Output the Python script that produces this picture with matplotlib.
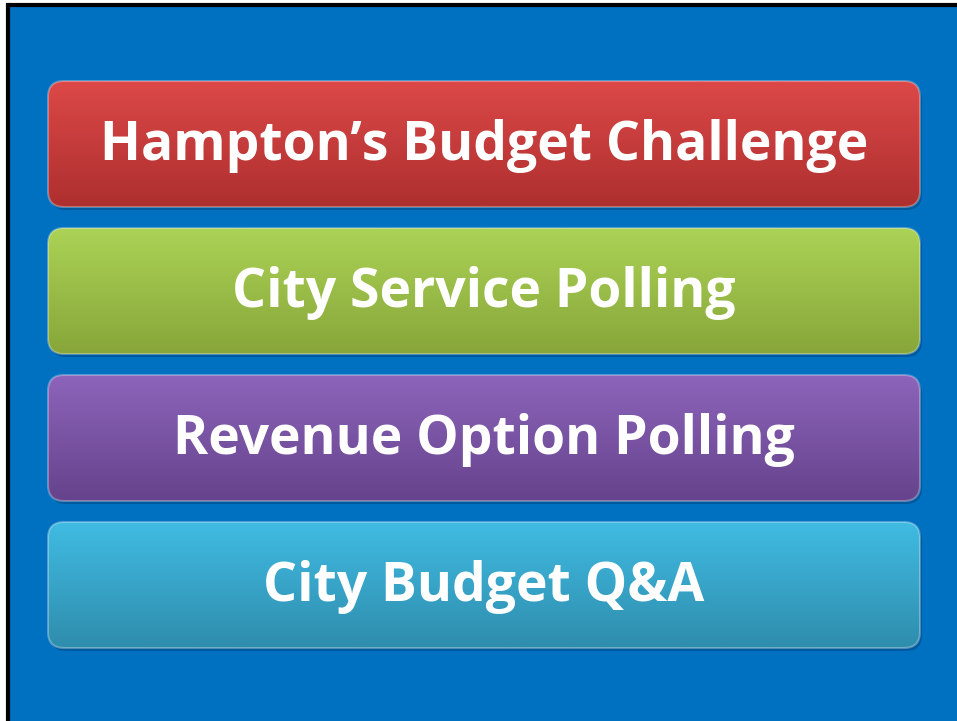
import numpy as np
import matplotlib.pyplot as plt
from matplotlib.patches import FancyBboxPatch, Rectangle

labels = ["Hampton\u2019s Budget Challenge", "City Service Polling",
          "Revenue Option Polling", "City Budget Q&A"]
top_colors = ["#DC4848", "#ABD255", "#8C64BA", "#40BBE2"]
bottom_colors = ["#AE2F2F", "#88A63A", "#66438C", "#2F8DAD"]

W, H = 957, 721
fig = plt.figure(figsize=(W / 100, H / 100), dpi=100)
fig.patch.set_facecolor("white")
ax = fig.add_axes([0, 0, 1, 1])
ax.set_xlim(0, W)
ax.set_ylim(H, 0)
ax.axis("off")

# slide background with black frame on left/top
ax.add_patch(Rectangle((8, 5), W, H, facecolor="#0070C0", edgecolor="black", lw=3))


def hex2rgb(h):
    return np.array([int(h[i:i + 2], 16) / 255 for i in (1, 3, 5)])


x0, x1 = 48, 920
box_h = 126
gap = 21
y_start = 81
for i, (lab, c_top, c_bot) in enumerate(zip(labels, top_colors, bottom_colors)):
    y0 = y_start + i * (box_h + gap)
    # drop shadow
    sh = FancyBboxPatch((x0 + 2, y0 + 3), x1 - x0, box_h,
                        boxstyle="round,pad=0,rounding_size=16",
                        facecolor="#00305a", edgecolor="none", alpha=0.35)
    ax.add_patch(sh)
    box = FancyBboxPatch((x0, y0), x1 - x0, box_h,
                         boxstyle="round,pad=0,rounding_size=16",
                         facecolor="none", edgecolor="none")
    ax.add_patch(box)
    t = np.linspace(0, 1, 64)[:, None]
    grad = (1 - t) * hex2rgb(c_top) + t * hex2rgb(c_bot)
    img = ax.imshow(grad[:, None, :], extent=(x0, x1, y0 + box_h, y0),
                    aspect="auto", interpolation="bilinear", zorder=2)
    img.set_clip_path(box)
    # light rim
    rim = FancyBboxPatch((x0, y0), x1 - x0, box_h,
                         boxstyle="round,pad=0,rounding_size=16",
                         facecolor="none", edgecolor=(1, 1, 1, 0.3), lw=1.5, zorder=3)
    ax.add_patch(rim)
    ax.text((x0 + x1) / 2, y0 + box_h / 2 + 2, lab, color="white",
            fontsize=38.5, fontweight="bold", family="Open Sans",
            ha="center", va="center", zorder=4)

ax.set_xlim(0, W)
ax.set_ylim(H, 0)
fig.savefig("out.png", dpi=100)
